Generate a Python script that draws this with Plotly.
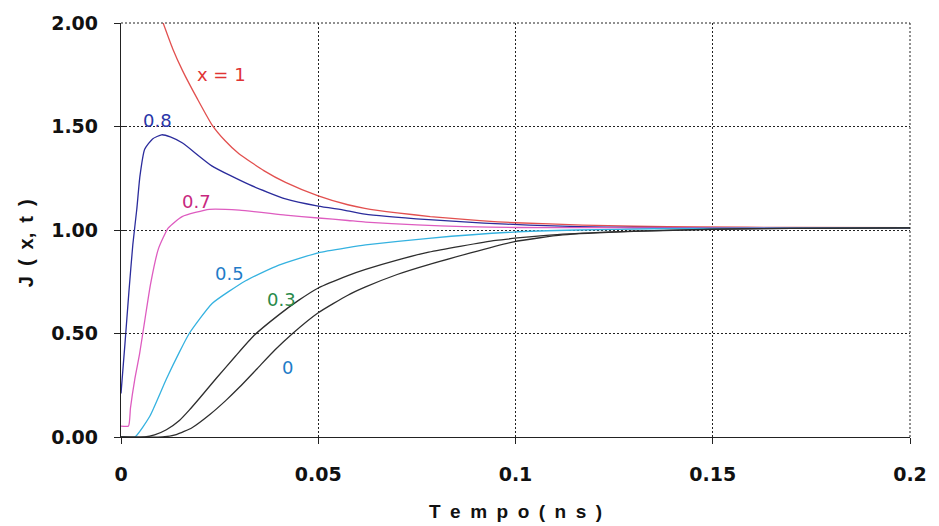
import plotly.graph_objects as go

# J(x, t) versus time for several positions x
t_x1 = [0.0103, 0.0131, 0.0156, 0.0194, 0.0231, 0.0264, 0.0299, 0.0362, 0.0417, 0.05,
        0.0575, 0.0618, 0.07, 0.0784, 0.091, 0.1, 0.117, 0.13, 0.147, 0.17, 0.2]
j_x1 = [2.02, 1.876, 1.77, 1.632, 1.507, 1.431, 1.368, 1.287, 1.23, 1.165,
        1.122, 1.105, 1.083, 1.065, 1.045, 1.035, 1.024, 1.018, 1.015, 1.012, 1.011]

t_x08 = [0.0, 0.001, 0.002, 0.003, 0.004, 0.0048, 0.006, 0.008, 0.0103, 0.0125, 0.0156,
         0.023, 0.0324, 0.0417, 0.05, 0.0568, 0.0618, 0.078, 0.092, 0.1035, 0.116, 0.13, 0.15, 0.2]
j_x08 = [0.21, 0.45, 0.70, 0.93, 1.10, 1.26, 1.39, 1.44, 1.46, 1.45, 1.42,
         1.31, 1.22, 1.15, 1.115, 1.095, 1.077, 1.05, 1.033, 1.024, 1.016, 1.012, 1.011, 1.010]

t_x07 = [0.0, 0.0019, 0.0024, 0.0035, 0.0047, 0.006, 0.0075, 0.0095, 0.012, 0.0155, 0.0224,
         0.03, 0.0417, 0.05, 0.0575, 0.062, 0.075, 0.087, 0.1, 0.12, 0.15, 0.2]
j_x07 = [0.053, 0.053, 0.14, 0.28, 0.40, 0.56, 0.74, 0.91, 1.01, 1.065, 1.10,
         1.096, 1.072, 1.058, 1.046, 1.038, 1.025, 1.016, 1.012, 1.011, 1.010, 1.010]

t_x05 = [0.0, 0.0035, 0.0073, 0.0115, 0.0148, 0.0173, 0.0231, 0.0316, 0.040, 0.05,
         0.0575, 0.062, 0.078, 0.0995, 0.116, 0.135, 0.16, 0.2]
j_x05 = [0.0, 0.0, 0.10, 0.28, 0.41, 0.50, 0.645, 0.755, 0.83, 0.89,
         0.915, 0.928, 0.96, 0.99, 1.0, 1.006, 1.009, 1.010]

t_x03 = [0.0, 0.006, 0.0085, 0.0115, 0.0148, 0.0173, 0.0198, 0.024, 0.029, 0.0337, 0.040,
         0.045, 0.05, 0.0575, 0.062, 0.070, 0.078, 0.095, 0.112, 0.13, 0.15, 0.17, 0.2]
j_x03 = [0.0, 0.0, 0.01, 0.035, 0.08, 0.13, 0.185, 0.28, 0.39, 0.49, 0.59,
         0.66, 0.72, 0.78, 0.81, 0.855, 0.893, 0.95, 0.98, 0.995, 1.004, 1.008, 1.010]

t_x0 = [0.0, 0.0105, 0.014, 0.018, 0.0226, 0.0266, 0.030, 0.0345, 0.039, 0.0435, 0.05, 0.0575,
        0.062, 0.070, 0.078, 0.0995, 0.112, 0.13, 0.15, 0.17, 0.2]
j_x0 = [0.0, 0.0, 0.012, 0.045, 0.11, 0.177, 0.24, 0.33, 0.42, 0.50, 0.60, 0.685,
        0.725, 0.785, 0.833, 0.943, 0.976, 0.993, 1.003, 1.008, 1.010]

series = [
    ("x = 1", t_x1, j_x1, "#e2504f"),
    ("0.8", t_x08, j_x08, "#2b2c9c"),
    ("0.7", t_x07, j_x07, "#de5cc0"),
    ("0.5", t_x05, j_x05, "#35b2e0"),
    ("0.3", t_x03, j_x03, "#2e2e2e"),
    ("0", t_x0, j_x0, "#2e2e2e"),
]

# curve labels: text, t, J, colour
label_text = ["x = 1", "0.8", "0.7", "0.5", "0.3", "0"]
label_t = [0.0254, 0.0093, 0.0191, 0.0276, 0.0407, 0.0422]
label_j = [1.75, 1.53, 1.14, 0.79, 0.665, 0.335]
label_color = ["#e03434", "#2a35a8", "#c8287f", "#1f7cc8", "#2a8a4a", "#1f7cc8"]

x_tickvals = [0, 0.05, 0.1, 0.15, 0.2]
x_ticktext = ["0", "0.05", "0.1", "0.15", "0.2"]
y_tickvals = [0, 0.5, 1.0, 1.5, 2.0]
y_ticktext = ["0.00", "0.50", "1.00", "1.50", "2.00"]

fig = go.Figure()
for name, tt, jj, col in series:
    fig.add_trace(go.Scatter(x=tt, y=jj, mode="lines", name=name,
                             line=dict(color=col, width=1.3, shape="spline", smoothing=0.5),
                             showlegend=False, hoverinfo="skip"))

for txt, tx, jy, col in zip(label_text, label_t, label_j, label_color):
    fig.add_annotation(x=tx, y=jy, text=txt, showarrow=False,
                       font=dict(family="DejaVu Sans", size=18, color=col))

tick_font = dict(family="DejaVu Sans", size=19, color="#111111", weight="bold")
grid_dash = "2px,2px"

fig.update_layout(
    width=939, height=526,
    margin=dict(l=121, r=22, t=19, b=89),
    plot_bgcolor="white", paper_bgcolor="white",
    xaxis=dict(range=[0, 0.2], tickvals=x_tickvals, ticktext=x_ticktext,
               showgrid=True, gridcolor="#222222", griddash=grid_dash, gridwidth=1,
               showline=True, linecolor="#222222", linewidth=1.3,
               ticks="outside", ticklen=6, tickcolor="#222222",
               tickfont=tick_font, ticklabelstandoff=14, zeroline=False),
    yaxis=dict(range=[0, 2.0], tickvals=y_tickvals, ticktext=y_ticktext,
               showgrid=True, gridcolor="#222222", griddash=grid_dash, gridwidth=1,
               showline=True, linecolor="#222222", linewidth=1.3,
               ticks="outside", ticklen=6, tickcolor="#222222",
               tickfont=tick_font, ticklabelstandoff=12, zeroline=False),
    yaxis2=dict(range=[0, 2.0], overlaying="y", side="left", tickvals=y_tickvals,
                showticklabels=False, showgrid=False, ticks="inside", ticklen=5,
                tickcolor="#222222", showline=False, zeroline=False),
)
# inside half of the crossing tick marks on the J axis
fig.add_trace(go.Scatter(x=[0.1], y=[-1], yaxis="y2", mode="markers",
                         showlegend=False, hoverinfo="skip"))

# dotted frame on top and right
fig.add_shape(type="line", xref="paper", yref="paper", x0=0, x1=1, y0=1, y1=1,
              line=dict(color="#222222", width=1, dash=grid_dash))
fig.add_shape(type="line", xref="paper", yref="paper", x0=1, x1=1, y0=0, y1=1,
              line=dict(color="#222222", width=1, dash=grid_dash))

sp = "\u2002"
fig.add_annotation(xref="paper", yref="paper", x=0.5, y=-0.179, yanchor="middle",
                   text=sp.join(list("Tempo(ns)")), showarrow=False,
                   font=dict(family="Liberation Sans", size=19, color="#111111", weight="bold"))
fig.add_annotation(xref="paper", yref="paper", x=-0.121, y=0.467, xanchor="center",
                   yanchor="middle",
                   text="J" + sp + "(" + sp + "x," + sp + "t" + sp + ")", textangle=-90,
                   showarrow=False,
                   font=dict(family="Liberation Sans", size=20, color="#111111", weight="bold"))

fig.write_html("out.html")
